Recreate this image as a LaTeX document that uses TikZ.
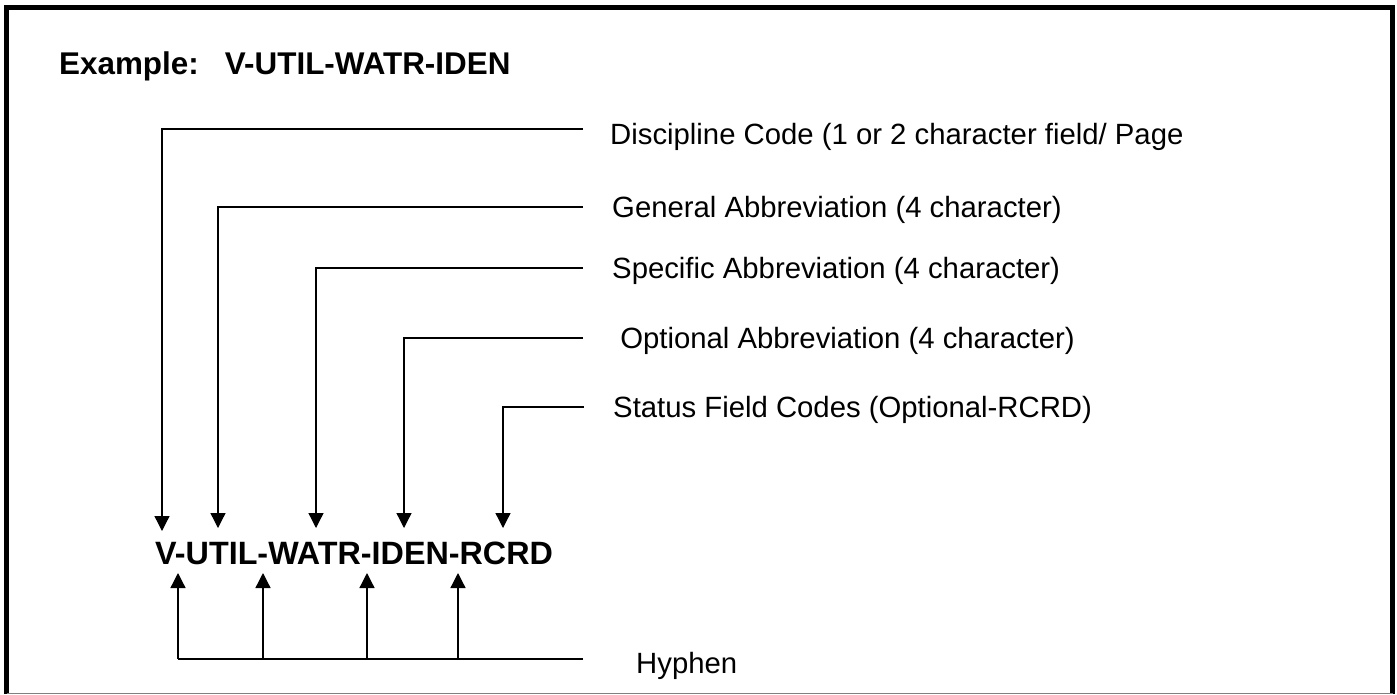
\documentclass[tikz,border=0pt]{standalone}
\usepackage{fontspec}
\setmainfont{Liberation Sans}
\usetikzlibrary{arrows.meta}
\tikzstyle{frame}=[line width=5pt]
\tikzstyle{object}=[line width=1.3pt]
\tikzstyle{pointer}=[object, -{Triangle[width=15pt,length=15pt]}]
\tikzstyle{field}=[inner sep=0pt, anchor=base west, font=\fontsize{29.3}{34}\selectfont]
\tikzstyle{code}=[inner sep=0pt, anchor=base west, font=\fontsize{32.3}{38}\selectfont\bfseries]

\begin{document}
\begin{tikzpicture}[x=1pt, y=-1pt]
  \useasboundingbox (0, 0) rectangle (1397, 694);
  \draw[frame] (6.5, 694) -- (6.5, 7) -- (1392.5, 7) -- (1392.5, 694);
  \draw[gray, thin] (6.5, 693) -- (1392.5, 693);

  \node[code, font=\fontsize{31.4}{37}\selectfont\bfseries] (title) at (59, 74) {Example:\ \ \ V-UTIL-WATR-IDEN};
  \node[code] (name) at (155, 564) {V-UTIL-WATR-IDEN-RCRD};

  \node[field] (discipline) at (610, 144) {Discipline Code (1 or 2 character field/ Page};
  \node[field] (general) at (612, 217) {General Abbreviation (4 character)};
  \node[field] (specific) at (612, 278) {Specific Abbreviation (4 character)};
  \node[field] (optional) at (612, 348) {\ Optional Abbreviation (4 character)};
  \node[field] (status) at (613, 417) {Status Field Codes (Optional-RCRD)};
  \node[field] (hyphen) at (636, 673) {Hyphen};

  \coordinate (discipline tip) at (162, 531);
  \coordinate (general tip) at (218, 528);
  \coordinate (specific tip) at (316, 528);
  \coordinate (optional tip) at (404, 528);
  \coordinate (status tip) at (503, 528);

  \draw[pointer] ([xshift=-27pt, yshift=15pt]discipline.base west) -| (discipline tip);
  \draw[pointer] ([xshift=-29pt, yshift=10pt]general.base west) -| (general tip);
  \draw[pointer] ([xshift=-29pt, yshift=10pt]specific.base west) -| (specific tip);
  \draw[pointer] ([xshift=-29pt, yshift=10pt]optional.base west) -| (optional tip);
  \draw[pointer] ([xshift=-29pt, yshift=10pt]status.base west) -| (status tip);

  \coordinate (hyphen end) at (178, 659);
  \draw[object] ([xshift=-53pt, yshift=14pt]hyphen.base west) -- (hyphen end);
  \draw[pointer] (hyphen end) -- (178, 573);
  \draw[pointer] (263, 659) -- (263, 573);
  \draw[pointer] (367, 659) -- (367, 573);
  \draw[pointer] (458, 659) -- (458, 573);
\end{tikzpicture}
\end{document}
